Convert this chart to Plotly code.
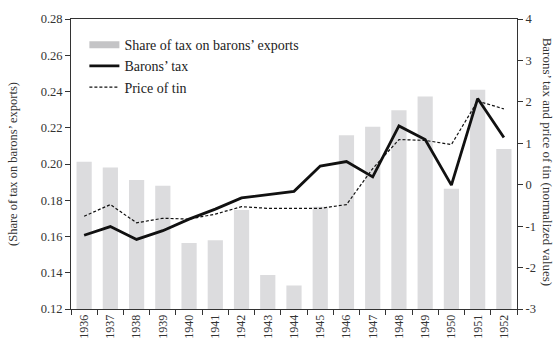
import plotly.graph_objects as go

years = [str(y) for y in range(1936, 1953)]
share_tax = [0.2013, 0.1981, 0.1912, 0.1880, 0.1564, 0.1580, 0.1746, 0.1388, 0.1329,
             0.1764, 0.2158, 0.2206, 0.2297, 0.2372, 0.1864, 0.2410, 0.2083]
barons_tax = [-1.22, -1.01, -1.32, -1.11, -0.83, -0.59, -0.32, -0.24, -0.16,
              0.45, 0.56, 0.19, 1.42, 1.09, -0.01, 2.08, 1.14]
price_tin = [-0.76, -0.48, -0.92, -0.81, -0.83, -0.71, -0.53, -0.57, -0.57,
             -0.57, -0.48, 0.39, 1.09, 1.07, 0.97, 2.02, 1.83]

left_ticks = [0.12, 0.14, 0.16, 0.18, 0.20, 0.22, 0.24, 0.26, 0.28]
right_ticks = [-3, -2, -1, 0, 1, 2, 3, 4]

FONT = "Liberation Serif"
AX = "#333333"
BAR = "#dcdcde"

fig = go.Figure()
fig.add_trace(go.Bar(x=years, y=share_tax, name="Share of tax on barons\u2019 exports",
                     marker=dict(color=BAR, line=dict(width=0)), width=0.58,
                     showlegend=False))
# legend entry for the bars, drawn as a wide grey swatch
fig.add_trace(go.Scatter(x=[None], y=[None], name="Share of tax on barons\u2019 exports",
                         mode="lines", line=dict(color="#c4c4c6", width=7)))
fig.add_trace(go.Scatter(x=years, y=barons_tax, name="Barons\u2019 tax", yaxis="y2",
                         mode="lines", line=dict(color="#111111", width=2.8)))
fig.add_trace(go.Scatter(x=years, y=price_tin, name="Price of tin", yaxis="y2",
                         mode="lines", line=dict(color="#111111", width=1.2, dash="3px,2px")))

fig.update_layout(
    width=555, height=351,
    margin=dict(l=70, r=38, t=19, b=33),
    plot_bgcolor="white", paper_bgcolor="white",
    font=dict(family=FONT, size=13, color=AX),
    showlegend=True,
    legend=dict(x=0.03, y=0.965, xanchor="left", yanchor="top",
                bgcolor="rgba(0,0,0,0)", font=dict(family=FONT, size=14, color="#222"),
                tracegroupgap=0),
    xaxis=dict(type="category", tickangle=-90, showline=True, linecolor=AX, linewidth=1,
               mirror=True, ticks="outside", ticklen=5, tickcolor=AX, tickson="boundaries",
               tickfont=dict(size=12), showgrid=False, range=[-0.5, 16.5]),
    yaxis=dict(range=[0.12, 0.28], tickvals=left_ticks,
               ticktext=["%.2f" % v for v in left_ticks],
               showline=True, linecolor=AX, linewidth=1, ticks="outside", ticklen=5,
               tickcolor=AX, showgrid=False, zeroline=False, tickfont=dict(size=12.5),
               title=dict(text="(Share of tax on barons\u2019 exports)", standoff=20,
                          font=dict(size=12.5))),
    yaxis2=dict(range=[-3, 4], overlaying="y", side="right", tickvals=right_ticks,
                ticktext=[str(v) for v in right_ticks],
                showline=True, linecolor=AX, linewidth=1, ticks="outside", ticklen=5,
                tickcolor=AX, showgrid=False, zeroline=False, tickfont=dict(size=12.5)),
    annotations=[dict(text="Barons\u2019 tax and price of tin (normalized values)",
                      xref="paper", yref="paper", x=1.0, y=0.508, xshift=30,
                      xanchor="center", yanchor="middle",
                      showarrow=False, textangle=90,
                      font=dict(family=FONT, size=13, color=AX))],
)

fig.write_html("out.html")
